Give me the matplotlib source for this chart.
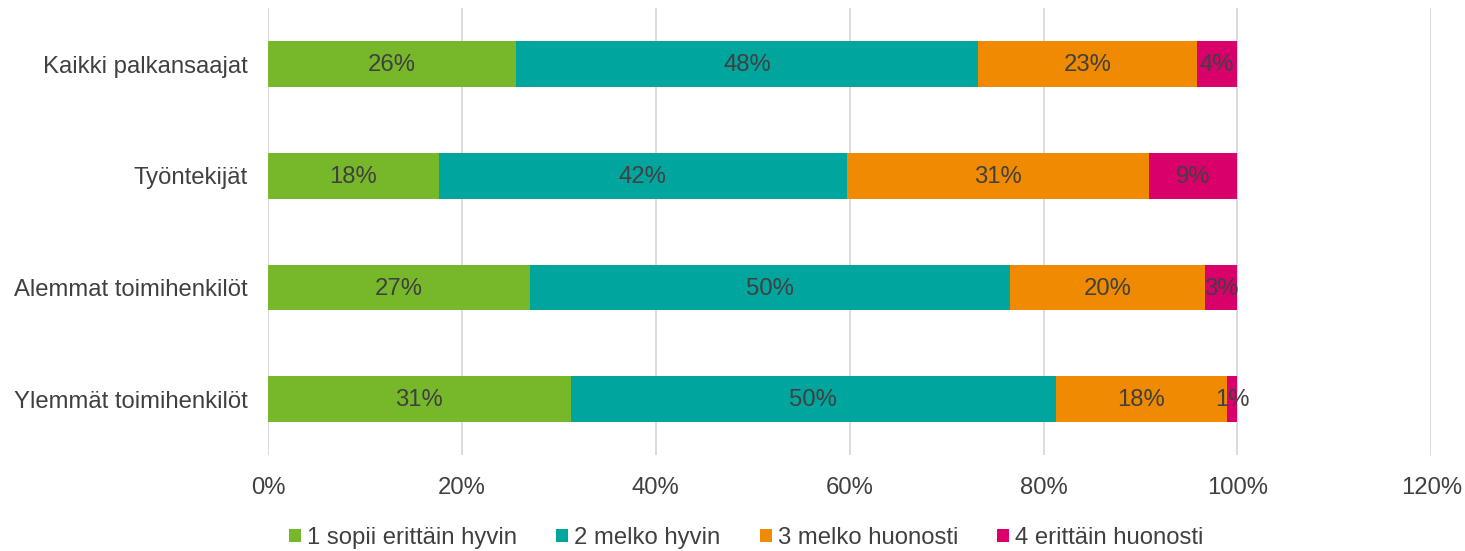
import matplotlib.pyplot as plt
import numpy as np
from matplotlib.ticker import PercentFormatter

plt.rcParams["font.family"] = ["Liberation Sans", "DejaVu Sans"]

categories = ["Kaikki palkansaajat", "Työntekijät", "Alemmat toimihenkilöt", "Ylemmät toimihenkilöt"]
series_names = ["1 sopii erittäin hyvin", "2 melko hyvin", "3 melko huonosti", "4 erittäin huonosti"]
very_well = [25.6, 17.6, 27.0, 31.2]
fairly_well = [47.6, 42.1, 49.5, 50.1]
fairly_poorly = [22.6, 31.2, 20.2, 17.6]
very_poorly = [4.2, 9.1, 3.3, 1.1]
colors = ["#77B82A", "#00A59D", "#F08A00", "#D9006C"]

series = [very_well, fairly_well, fairly_poorly, very_poorly]
fs = 17.2

fig = plt.figure(figsize=(14.65, 5.51), dpi=100)
ax = fig.add_axes([0.183, 0.174, 0.794, 0.811])

y = np.arange(len(categories))
left = np.zeros(len(categories))
for name, vals, col in zip(series_names, series, colors):
    vals = np.array(vals)
    bars = ax.barh(y, vals, left=left, height=0.41, color=col, label=name, zorder=2)
    for b, v in zip(bars, vals):
        ax.text(b.get_x() + b.get_width() / 2, b.get_y() + b.get_height() / 2 + 0.01,
                f"{v:.0f}%", ha="center", va="center", fontsize=fs, color="#404040", zorder=3)
    left += vals

ax.set_yticks(y)
ax.set_yticklabels(categories, fontsize=fs, color="#404040")
ax.set_ylim(3.5, -0.5)
ax.set_xlim(0, 120)
ax.set_xticks(np.arange(0, 121, 20))
ax.xaxis.set_major_formatter(PercentFormatter(decimals=0))
ax.tick_params(axis="x", labelsize=fs, labelcolor="#404040", length=0, pad=16)
ax.tick_params(axis="y", length=0, pad=15)
ax.grid(axis="x", color="#D9D9D9", linewidth=1.3, zorder=0)
for s in ax.spines.values():
    s.set_visible(False)

ax.legend(loc="center", bbox_to_anchor=(0.411, -0.185), ncol=4, frameon=False,
          fontsize=fs, labelcolor="#404040", handlelength=0.5, handleheight=0.5,
          handletextpad=0.25, columnspacing=1.65)

fig.savefig("out.png", dpi=100)
